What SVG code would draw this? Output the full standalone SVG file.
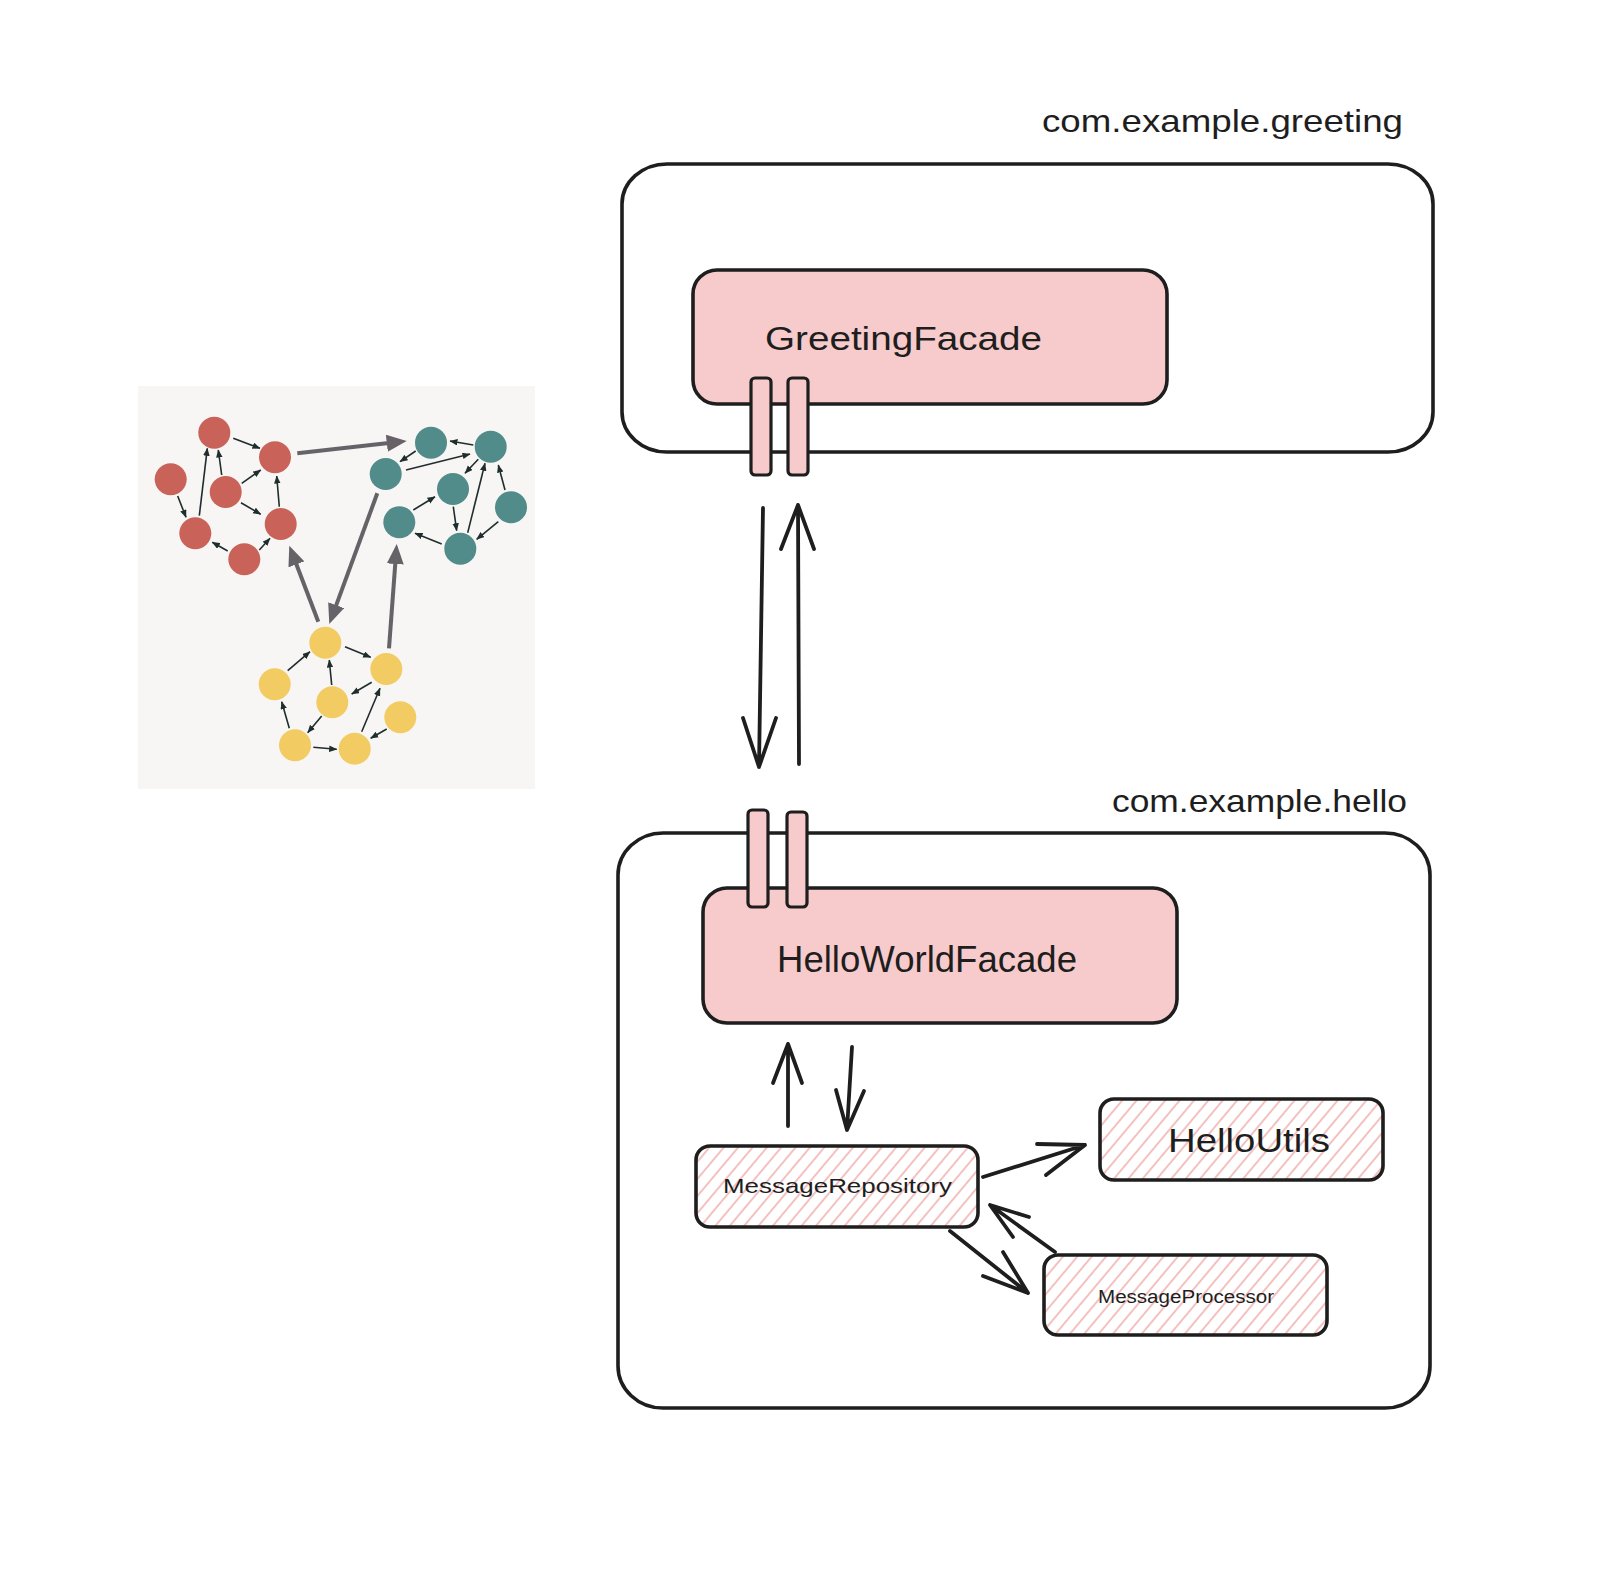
<svg xmlns="http://www.w3.org/2000/svg" width="1612" height="1576" viewBox="0 0 1612 1576">
<defs>
<style>
.box{fill:none;stroke:#1e1e1e;stroke-width:3.6;stroke-linejoin:round}
.solid{fill:#f7cbcb;stroke:#1e1e1e;stroke-width:3.6}
.hatch{fill:url(#hachure);stroke:#1e1e1e;stroke-width:3.6}
.port{fill:#f7cbcb;stroke:#1e1e1e;stroke-width:3.2}
.conn{fill:none;stroke:#1e1e1e;stroke-width:3.8;stroke-linecap:round;stroke-linejoin:round}
.lbl{font-family:"Liberation Sans","Noto Sans",sans-serif;fill:#1e1e1e}
.sm{stroke:#1f2d2d;stroke-width:1.6;fill:none;marker-end:url(#smallHead)}
.big{stroke:#666268;stroke-width:4;fill:none;marker-end:url(#bigHead)}
.r{fill:#c96359}
.t{fill:#528c8a}
.y{fill:#f2cc62}
</style>
<pattern id="hachure" patternUnits="userSpaceOnUse" width="11" height="11" patternTransform="rotate(40)">
<line x1="5" y1="0" x2="5" y2="11" stroke="#f2b6b6" stroke-width="1.7"/>
</pattern>
<marker id="smallHead" markerUnits="userSpaceOnUse" markerWidth="8" markerHeight="7" refX="7.5" refY="3.25" orient="auto">
<path d="M0,0 L8,3.25 L0,6.5 z" fill="#1f2d2d"/>
</marker>
<marker id="bigHead" markerUnits="userSpaceOnUse" markerWidth="21" markerHeight="17" refX="2" refY="8.5" orient="auto">
<path d="M0,0 L20,8.5 L0,17 z" fill="#666268"/>
</marker>
</defs>
<rect width="1612" height="1576" fill="#ffffff"/>

<g id="graph-image">
<rect x="138" y="386" width="397" height="403" fill="#f7f6f4"/>
<g id="graph-edges">
<line class="big" x1="297.3" y1="453.3" x2="388.8" y2="443"/>
<line class="big" x1="318.3" y1="621.7" x2="295.7" y2="562.5"/>
<line class="big" x1="377.3" y1="493.3" x2="335.5" y2="607.1"/>
<line class="big" x1="389" y1="648.3" x2="395.4" y2="562"/>
<line class="sm" x1="233.3" y1="438.3" x2="260" y2="448.3"/>
<line class="sm" x1="199.3" y1="515.7" x2="207.3" y2="448.3"/>
<line class="sm" x1="221.7" y1="475" x2="218.3" y2="450"/>
<line class="sm" x1="241.7" y1="483.3" x2="260.7" y2="470"/>
<line class="sm" x1="241" y1="502.7" x2="260.7" y2="514.3"/>
<line class="sm" x1="279.3" y1="506.7" x2="276.7" y2="476"/>
<line class="sm" x1="177.7" y1="496" x2="186" y2="517.3"/>
<line class="sm" x1="227.7" y1="551" x2="212.3" y2="542.3"/>
<line class="sm" x1="259.3" y1="550" x2="270" y2="538.3"/>
<line class="sm" x1="473.3" y1="445" x2="450" y2="441"/>
<line class="sm" x1="415.7" y1="451" x2="400" y2="461.7"/>
<line class="sm" x1="406" y1="470" x2="470" y2="454"/>
<line class="sm" x1="478.3" y1="459.3" x2="465" y2="473.3"/>
<line class="sm" x1="467.7" y1="532.7" x2="485" y2="463.3"/>
<line class="sm" x1="505" y1="490" x2="498.3" y2="465"/>
<line class="sm" x1="453.3" y1="506.7" x2="456.7" y2="530.7"/>
<line class="sm" x1="413.3" y1="510" x2="435" y2="496.7"/>
<line class="sm" x1="441.7" y1="544" x2="415" y2="533.3"/>
<line class="sm" x1="498.3" y1="521.7" x2="476.7" y2="539.3"/>
<line class="sm" x1="287.7" y1="670.7" x2="310" y2="651.7"/>
<line class="sm" x1="345" y1="646.7" x2="370.7" y2="657.3"/>
<line class="sm" x1="331.7" y1="685" x2="329.3" y2="660"/>
<line class="sm" x1="371.7" y1="682.3" x2="351.7" y2="694"/>
<line class="sm" x1="321.7" y1="716" x2="307.7" y2="732.7"/>
<line class="sm" x1="289.3" y1="728.3" x2="281.7" y2="701.7"/>
<line class="sm" x1="313.3" y1="747.3" x2="336.7" y2="749.3"/>
<line class="sm" x1="361.7" y1="731.7" x2="380" y2="688.3"/>
<line class="sm" x1="386.7" y1="729" x2="370.7" y2="738.3"/>
</g>
<g id="graph-nodes">
<circle class="r" cx="214.3" cy="432.7" r="16"/>
<circle class="r" cx="275" cy="457.3" r="16"/>
<circle class="r" cx="170.7" cy="479.3" r="16"/>
<circle class="r" cx="225.7" cy="492" r="16"/>
<circle class="r" cx="280.7" cy="524" r="16"/>
<circle class="r" cx="195.3" cy="533.3" r="16"/>
<circle class="r" cx="244.3" cy="559.3" r="16"/>
<circle class="t" cx="431" cy="442.7" r="16"/>
<circle class="t" cx="490.7" cy="446.7" r="16"/>
<circle class="t" cx="385.7" cy="474" r="16"/>
<circle class="t" cx="453" cy="489" r="16"/>
<circle class="t" cx="511" cy="507.3" r="16"/>
<circle class="t" cx="399.3" cy="522.3" r="16"/>
<circle class="t" cx="460.3" cy="548.7" r="16"/>
<circle class="y" cx="325.3" cy="642.7" r="16"/>
<circle class="y" cx="386.3" cy="669" r="16"/>
<circle class="y" cx="274.7" cy="684.3" r="16"/>
<circle class="y" cx="332.3" cy="702.3" r="16"/>
<circle class="y" cx="400.3" cy="717.3" r="16"/>
<circle class="y" cx="295" cy="745.3" r="16"/>
<circle class="y" cx="354.7" cy="748.7" r="16"/>
</g>
</g>

<g id="pkg-greeting">
<rect class="box" x="622" y="164" width="811" height="288" rx="45" ry="40"/>
<text class="lbl" x="1042" y="132" font-size="32" textLength="361" lengthAdjust="spacingAndGlyphs">com.example.greeting</text>
</g>

<g id="GreetingFacade">
<rect class="solid" x="693" y="270" width="474" height="134" rx="24"/>
<text class="lbl" x="765" y="350" font-size="33" textLength="277" lengthAdjust="spacingAndGlyphs">GreetingFacade</text>
<rect class="port" x="751" y="378" width="20" height="97" rx="4"/>
<rect class="port" x="788" y="378" width="20" height="97" rx="4"/>
</g>

<g id="pkg-hello">
<rect class="box" x="618" y="833" width="812" height="575" rx="45" ry="42"/>
<text class="lbl" x="1112" y="812" font-size="32" textLength="295" lengthAdjust="spacingAndGlyphs">com.example.hello</text>
</g>

<g id="HelloWorldFacade">
<rect class="solid" x="703" y="888" width="474" height="135" rx="24"/>
<text class="lbl" x="777" y="972" font-size="37" textLength="300" lengthAdjust="spacingAndGlyphs">HelloWorldFacade</text>
<rect class="port" x="748" y="810" width="20" height="97" rx="4"/>
<rect class="port" x="787" y="812" width="20" height="95" rx="4"/>
</g>

<g id="MessageRepository">
<rect class="hatch" x="696" y="1146" width="282" height="81" rx="14"/>
<text class="lbl" x="723" y="1193" font-size="21" textLength="229" lengthAdjust="spacingAndGlyphs">MessageRepository</text>
</g>

<g id="HelloUtils">
<rect class="hatch" x="1100" y="1099" width="283" height="81" rx="14"/>
<text class="lbl" x="1168" y="1152" font-size="33" textLength="162" lengthAdjust="spacingAndGlyphs">HelloUtils</text>
</g>

<g id="MessageProcessor">
<rect class="hatch" x="1044" y="1255" width="283" height="80" rx="14"/>
<text class="lbl" x="1098" y="1303" font-size="18" textLength="176" lengthAdjust="spacingAndGlyphs">MessageProcessor</text>
</g>

<g id="connectors">
<path class="conn" d="M763,508 L759,767 M743,718 L759,767 L776,718"/>
<path class="conn" d="M799,764 L798,505 M781,549 L798,505 L814,549"/>
<path class="conn" d="M788,1126 L788,1044 M773,1083 L788,1044 L802,1083"/>
<path class="conn" d="M852,1047 L847,1130 M836,1090 L847,1130 L864,1091"/>
<path class="conn" d="M983,1177 L1085,1145 M1037,1144 L1085,1145 L1046,1175"/>
<path class="conn" d="M950,1231 L1028,1293 M983,1276 L1028,1293 L1003,1252"/>
<path class="conn" d="M1055,1252 L990,1205 M1029,1217 L990,1205 L1013,1237"/>
</g>
</svg>
